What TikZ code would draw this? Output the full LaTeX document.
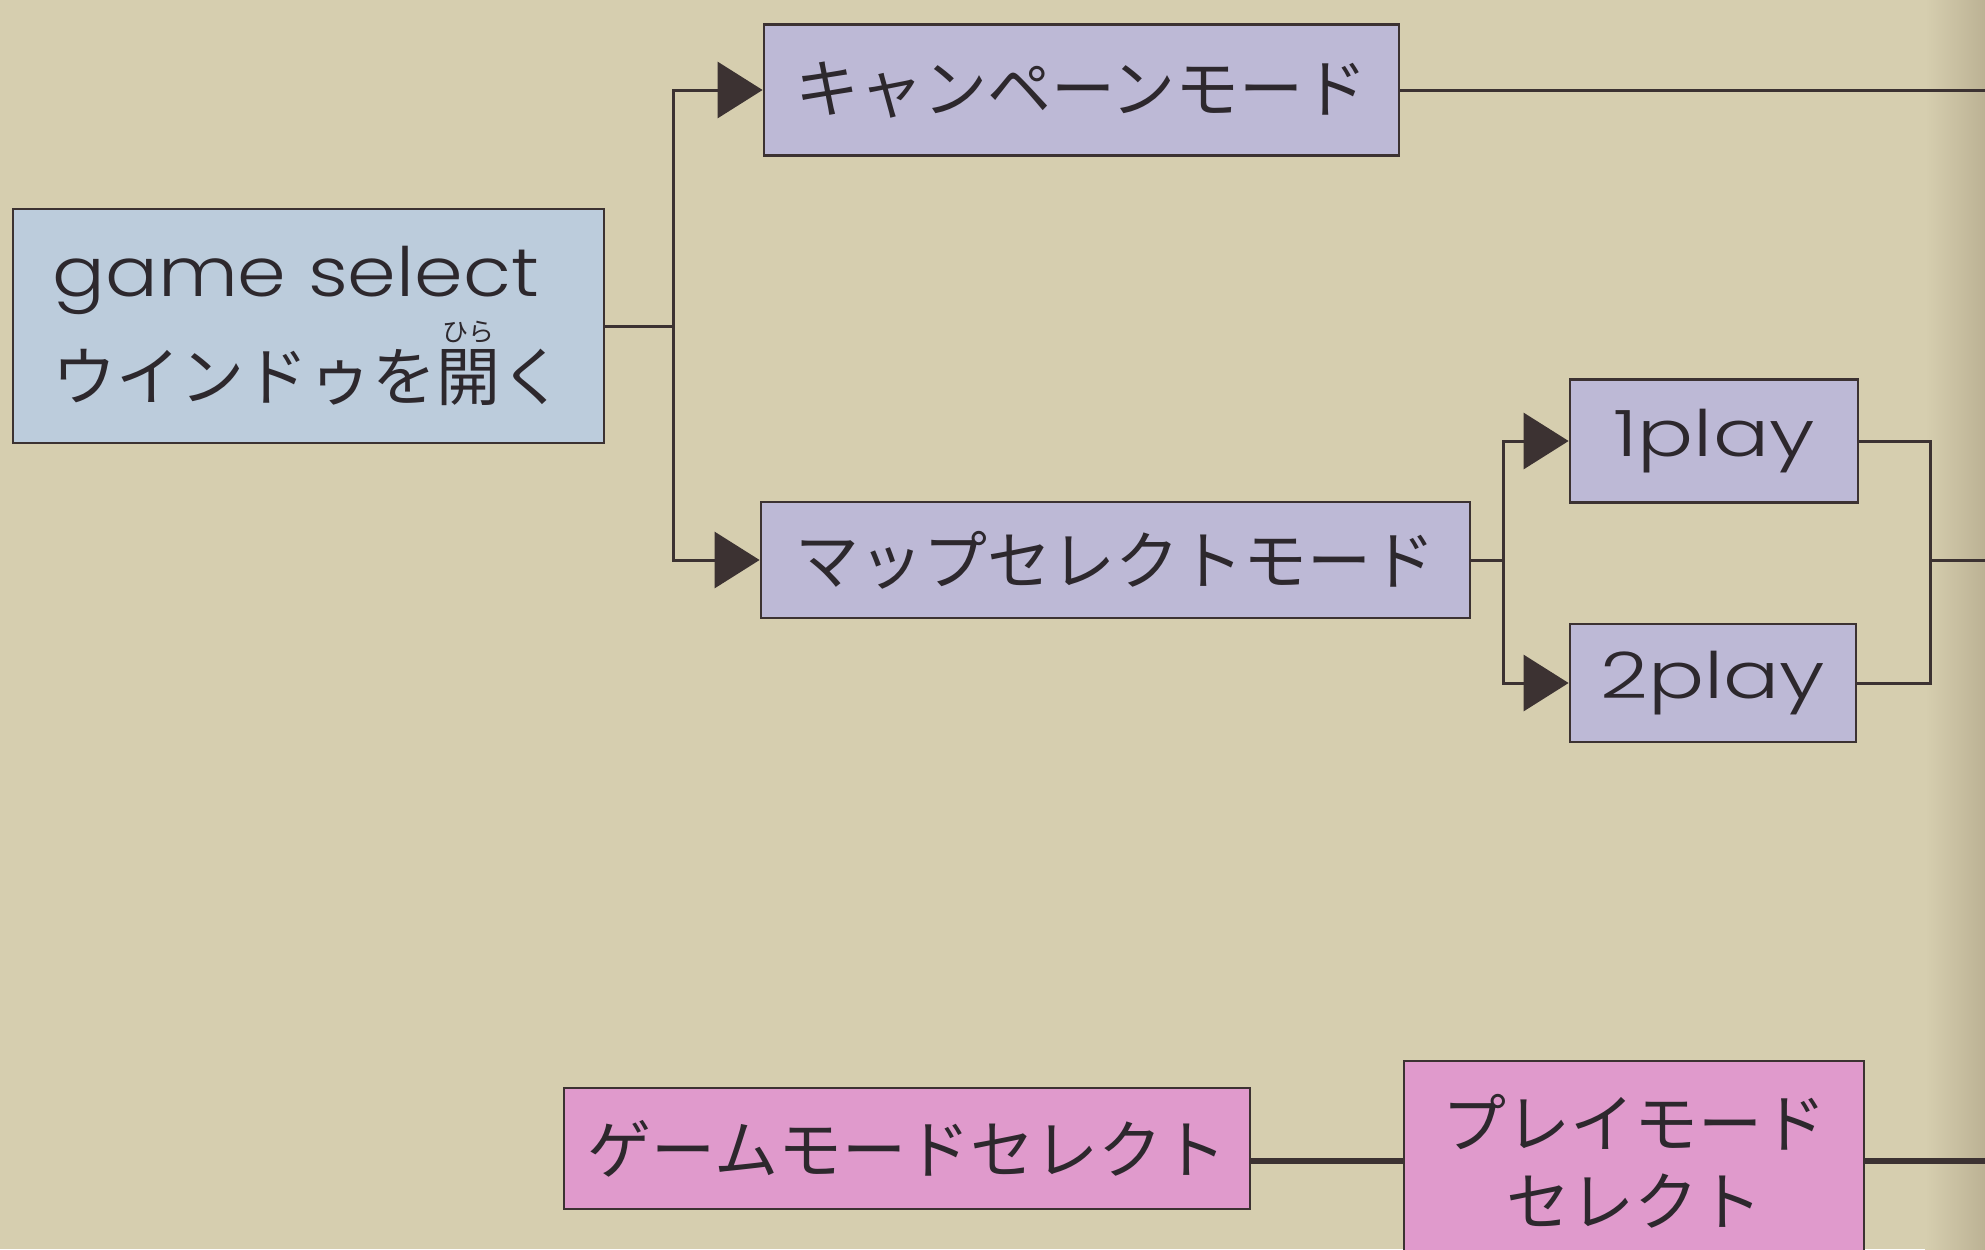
\documentclass[tikz,border=0pt]{standalone}
\usepackage{fontspec}
\usepackage{graphicx}
\setmainfont{Noto Sans CJK JP}
\newfontfamily\latinf{Poppins}[UprightFont=* Light]
\usetikzlibrary{arrows.meta}
\definecolor{bgc}{RGB}{214,206,175}
\definecolor{bgdark}{RGB}{188,178,148}
\definecolor{gsfill}{RGB}{188,204,220}
\definecolor{lavfill}{RGB}{189,185,214}
\definecolor{pinkfill}{RGB}{224,154,204}
\definecolor{linec}{RGB}{60,50,50}
\definecolor{textc}{RGB}{45,40,45}
\newcommand\rubyk[2]{\leavevmode\makebox[0pt][l]{\raisebox{0.92em}{\makebox[1em][c]{\fontsize{13pt}{13pt}\selectfont #2}}}#1}
\tikzset{
  boxbase/.style={draw=linec, line width=1.4pt, inner sep=0pt, text=textc,
    font=\fontsize{32pt}{39pt}\selectfont},
  gsbox/.style={boxbase, fill=gsfill},
  lavbox/.style={boxbase, fill=lavfill},
  pinkbox/.style={boxbase, fill=pinkfill},
  conn/.style={draw=linec, line width=1.5pt},
  thickconn/.style={draw=linec, line width=2.8pt},
  arr/.style={conn, -{Triangle[length=22.5pt,width=28pt]}}
}
\begin{document}
\begin{tikzpicture}[x=0.5pt,y=-0.5pt]
\useasboundingbox (0,0) rectangle (1985,1249);
\clip (0,0) rectangle (1985,1249);
\fill[bgc] (0,0) rectangle (1985,1249);
\shade[left color=bgc, right color=bgdark] (1925,0) rectangle (1985,1249);

\node[gsbox, minimum width=295.5pt, minimum height=117pt, align=left,
  font=\fontsize{32pt}{52pt}\selectfont] (gs) at (308.5,326)
  {{\latinf\fontsize{34pt}{52pt}\selectfont\scalebox{1.15}[1]{game select}}\\
   ウインドゥを\rubyk{開}{ひら}く};
\node[lavbox, minimum width=317.5pt, minimum height=65.5pt] (camp) at (1081.5,90) {キャンペーンモード};
\node[lavbox, minimum width=354.5pt, minimum height=58pt] (map) at (1115.5,560) {マップセレクトモード};
\node[lavbox, minimum width=144pt, minimum height=61.5pt] (p1) at (1714,441)
  {\latinf\scalebox{1.3}[1]{1play}};
\node[lavbox, minimum width=143pt, minimum height=59pt] (p2) at (1713,683)
  {\latinf\scalebox{1.3}[1]{2play}};
\node[pinkbox, minimum width=343pt, minimum height=60.5pt] (gms) at (907,1148.5) {ゲームモードセレクト};
\node[pinkbox, minimum width=230pt, minimum height=100pt, align=center] (pms) at (1634,1161)
  {プレイモード\\セレクト};

\coordinate (j1) at (673,326);
\coordinate (j2) at (1503,560);
\coordinate (j3) at (1930,560);
\coordinate (e1) at (1990,90);
\coordinate (e2) at (1990,560);
\coordinate (e3) at (1990,1161);

\draw[conn] (gs.east |- j1) -- (j1);
\draw[arr] (j1) |- (camp.west);
\draw[arr] (j1) |- (map.west);
\draw[conn] (camp.east) -- (e1);
\draw[conn] (map.east) -- (j2);
\draw[arr] (j2) |- (p1.west);
\draw[arr] (j2) |- (p2.west);
\draw[conn] (p1.east) -| (j3);
\draw[conn] (p2.east) -| (j3);
\draw[conn] (j3) -- (e2);
\draw[thickconn] (gms.east |- pms.west) -- (pms.west);
\draw[thickconn] (pms.east) -- (e3);
\end{tikzpicture}
\end{document}
